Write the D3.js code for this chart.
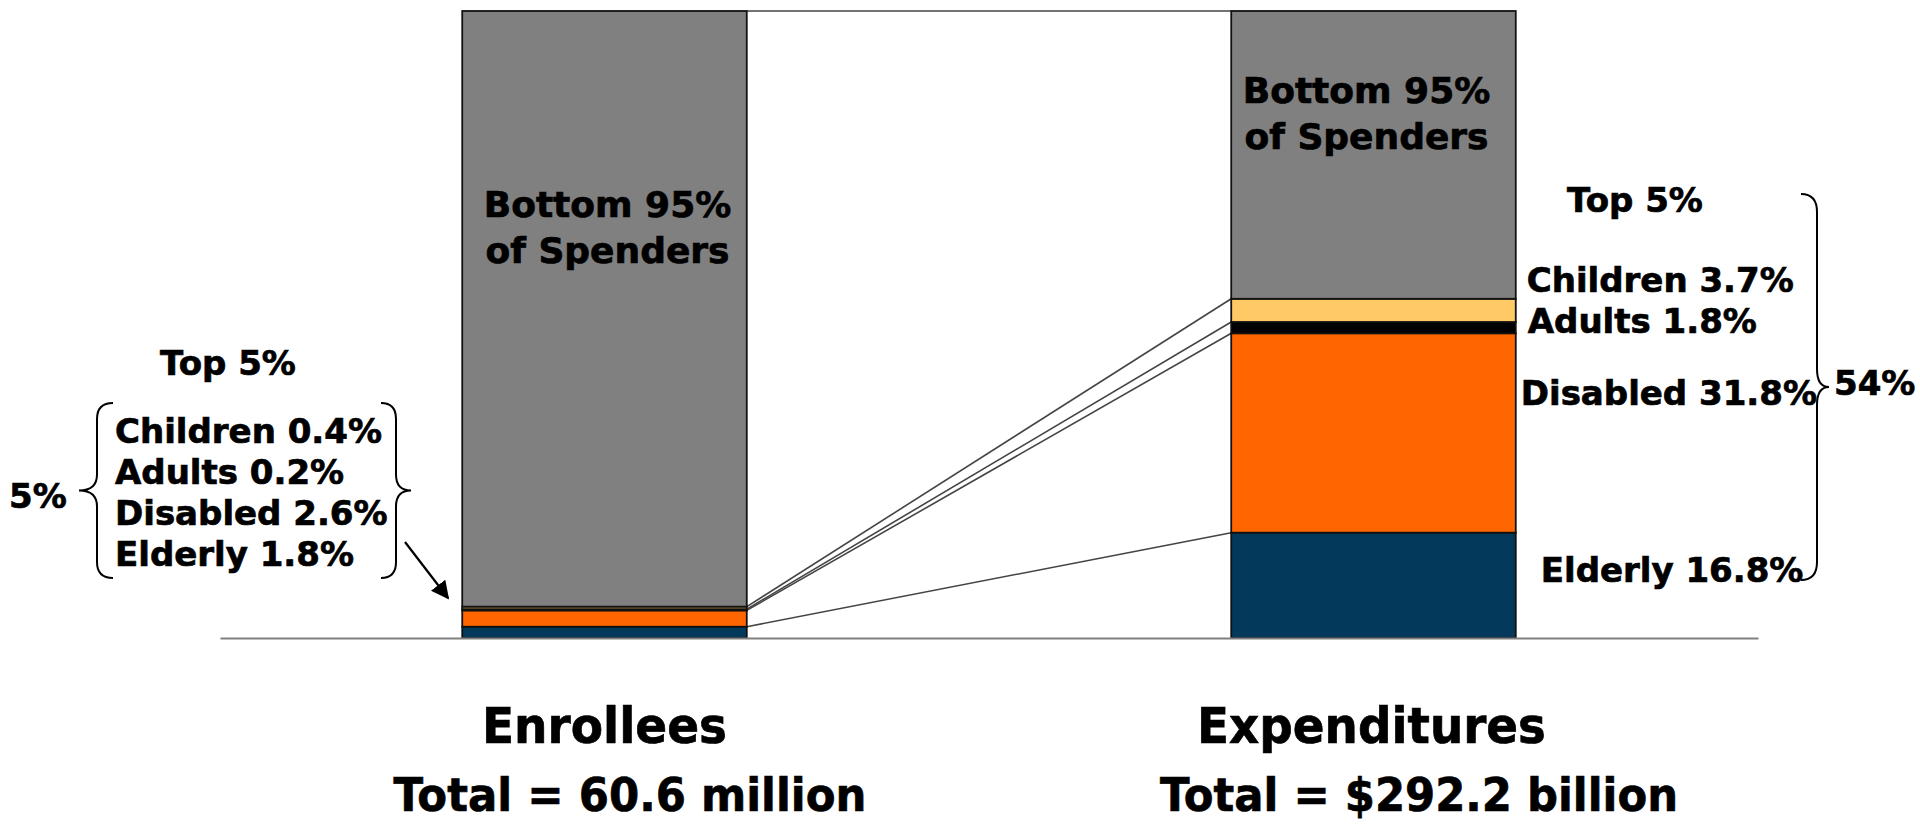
<!DOCTYPE html>
<html>
<head>
<meta charset="utf-8">
<script src="https://cdn.jsdelivr.net/npm/d3@7"></script>
<style>
  html, body { margin: 0; padding: 0; background: #ffffff; }
  svg { display: block; }
  text { font-family: "DejaVu Sans", Verdana, sans-serif; font-weight: bold; fill: #000; stroke: #000; stroke-width: 0.7px; }
</style>
</head>
<body>
<svg id="chart" width="1920" height="824"></svg>
<script>
// Medicaid enrollees vs. expenditures, by eligibility group (percent of total)
const groups = ["Enrollees", "Expenditures"];
const segmentNames = ["Elderly", "Disabled", "Adults", "Children", "Bottom 95%"];
const enrolleeShares = [1.8, 2.6, 0.2, 0.4, 95.0];
const expenditureShares = [16.8, 31.8, 1.8, 3.7, 45.9];
const segmentColors = ["#03395b", "#ff6600", "#000000", "#ffc966", "#808080"];
const totalLabels = ["Total = 60.6 million", "Total = $292.2 billion"];
const topShareLabels = ["5%", "54%"];
const enrolleeLabels = ["Children 0.4%", "Adults 0.2%", "Disabled 2.6%", "Elderly 1.8%"];
const expenditureLabels = ["Children 3.7%", "Adults 1.8%", "Disabled 31.8%", "Elderly 16.8%"];

const svg = d3.select("#chart");

const x = d3.scaleBand().domain(groups).range([220, 1758])
  .paddingInner(0.63).paddingOuter(0.315);
const y = d3.scaleLinear().domain([0, 100]).range([638, 11]);
const bw = x.bandwidth();

// one row per bar, one column per segment
const rows = groups.map((g, i) => {
  const src = i === 0 ? enrolleeShares : expenditureShares;
  const r = { group: g };
  segmentNames.forEach((s, j) => r[s] = src[j]);
  return r;
});
const stacked = d3.stack().keys(segmentNames)(rows);

// series lines joining segment boundaries of the two bars
const boundaries = stacked.map(layer => layer.map(d => d[1]));
const linkG = svg.append("g");
boundaries.forEach(b => {
  linkG.append("line")
    .attr("x1", x(groups[0]) + bw).attr("y1", y(b[0]))
    .attr("x2", x(groups[1])).attr("y2", y(b[1]))
    .attr("stroke", "#444").attr("stroke-width", 1.6);
});

// stacked bars
const barG = svg.append("g");
stacked.forEach((layer, j) => {
  barG.selectAll(null).data(layer).enter().append("rect")
    .attr("x", d => x(d.data.group))
    .attr("y", d => y(d[1]))
    .attr("width", bw)
    .attr("height", d => y(d[0]) - y(d[1]))
    .attr("fill", segmentColors[j])
    .attr("stroke", "#111")
    .attr("stroke-width", 1.8);
});

// baseline
const axis = svg.append("g").attr("transform", `translate(0,${y(0)})`)
  .call(d3.axisBottom(x).tickValues([]).tickSizeOuter(0));
axis.select(".domain").attr("stroke", "#808080").attr("stroke-width", 2.2);

// labels inside the grey segments
const inBar = [
  { g: groups[0], y0: 217, shift: 3 },
  { g: groups[1], y0: 103, shift: -7 }
];
inBar.forEach(o => {
  const cx = x(o.g) + bw / 2 + o.shift;
  ["Bottom 95%", "of Spenders"].forEach((t, k) => {
    svg.append("text").attr("x", cx).attr("y", o.y0 + k * 46)
      .attr("text-anchor", "middle").attr("font-size", 36).text(t);
  });
});

// group titles and totals below the axis
const titleSpecs = [
  { t: groups[0], cx: x(groups[0]) + bw / 2, y: 743, w: 245, fs: 50 },
  { t: groups[1], cx: x(groups[1]) + bw / 2 - 2, y: 743, w: 349, fs: 50 },
  { t: totalLabels[0], cx: 630, y: 811, w: 473, fs: 47 },
  { t: totalLabels[1], cx: 1419, y: 811, w: 518, fs: 47 }
];
titleSpecs.forEach(s => {
  svg.append("text").attr("x", s.cx - s.w / 2).attr("y", s.y)
    .attr("font-size", s.fs)
    .attr("textLength", s.w).attr("lengthAdjust", "spacingAndGlyphs")
    .text(s.t);
});

// curly brace between yTop and yBot, pointing at xTip
function brace(xEdge, xMid, xTip, yTop, yBot, r) {
  const ym = (yTop + yBot) / 2;
  const p = d3.path();
  p.moveTo(xEdge, yTop);
  p.quadraticCurveTo(xMid, yTop, xMid, yTop + r);
  p.lineTo(xMid, ym - r);
  p.quadraticCurveTo(xMid, ym, xTip, ym);
  p.quadraticCurveTo(xMid, ym, xMid, ym + r);
  p.lineTo(xMid, yBot - r);
  p.quadraticCurveTo(xMid, yBot, xEdge, yBot);
  return p.toString();
}
const braceStyle = s => s.attr("fill", "none").attr("stroke", "#000").attr("stroke-width", 2);

// left annotation: top 5% of enrollees
svg.append("text").attr("x", 160).attr("y", 375).attr("font-size", 34).text("Top 5%");
enrolleeLabels.forEach((t, i) => {
  svg.append("text").attr("x", 115).attr("y", 443 + i * 41).attr("font-size", 34).text(t);
});
svg.append("text").attr("x", 9).attr("y", 508).attr("font-size", 34).text(topShareLabels[0]);
svg.append("path").attr("d", brace(113, 97, 79, 403, 578, 16)).call(braceStyle);
svg.append("path").attr("d", brace(381, 396, 411, 403, 578, 16)).call(braceStyle);

// arrow pointing at the thin top-5% slice of the enrollee bar
svg.append("defs").append("marker")
  .attr("id", "arrowhead").attr("viewBox", "0 0 10 10")
  .attr("refX", 9).attr("refY", 5)
  .attr("markerWidth", 18).attr("markerHeight", 18)
  .attr("markerUnits", "userSpaceOnUse")
  .attr("orient", "auto")
  .append("path").attr("d", "M0,0 L10,5 L0,10 Z").attr("fill", "#000");
svg.append("line")
  .attr("x1", 405).attr("y1", 542).attr("x2", 448).attr("y2", 598)
  .attr("stroke", "#000").attr("stroke-width", 2.2)
  .attr("marker-end", "url(#arrowhead)");

// right annotation: top 5% of spenders
const rx = x(groups[1]) + bw;
svg.append("text").attr("x", 1567).attr("y", 212).attr("font-size", 34).text("Top 5%");
const rightPos = [
  { dx: 11, y: 292 },
  { dx: 12, y: 333 },
  { dx: 5, y: 405 },
  { dx: 25, y: 582 }
];
expenditureLabels.forEach((t, i) => {
  svg.append("text").attr("x", rx + rightPos[i].dx).attr("y", rightPos[i].y)
    .attr("font-size", 34).text(t);
});
svg.append("text").attr("x", 1834).attr("y", 395).attr("font-size", 34).text(topShareLabels[1]);
svg.append("path").attr("d", brace(1801, 1817, 1829, 194, 580, 18)).call(braceStyle);
</script>
</body>
</html>
